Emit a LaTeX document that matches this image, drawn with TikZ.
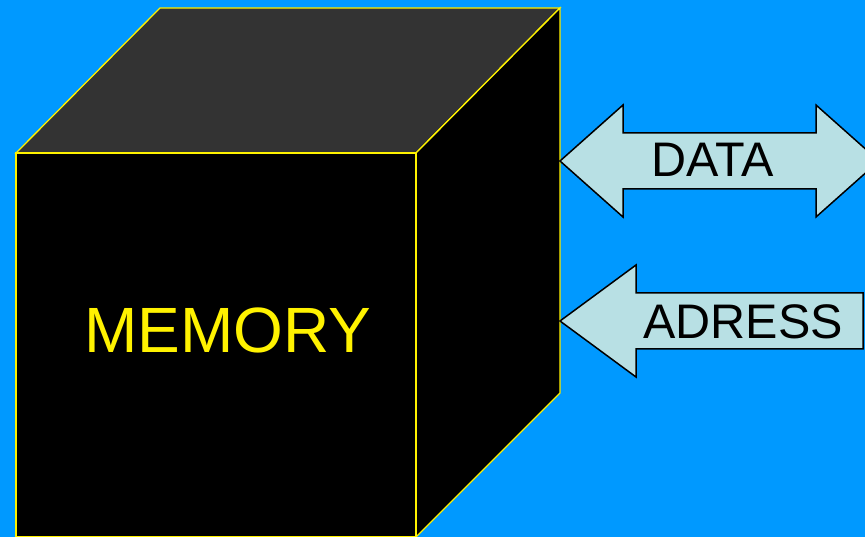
\documentclass[tikz,border=0pt]{standalone}
\usepackage{fontspec}
\setmainfont{Liberation Sans}
\definecolor{bgblue}{RGB}{0,153,255}
\definecolor{topgray}{RGB}{51,51,51}
\definecolor{buscyan}{RGB}{184,224,228}
\tikzset{
  edge/.style={draw=yellow, line width=1.3pt, line join=miter},
  busarrow/.style={fill=buscyan, draw=black, line width=1.5pt, line join=miter},
  buslabel/.style={font=\fontsize{48.5}{48.5}\selectfont, text=black, inner sep=0pt}
}
\begin{document}
\begin{tikzpicture}[x=1pt,y=-1pt]
  \useasboundingbox (0,0) rectangle (865,537);
  \clip (0,0) rectangle (865,537);
  \fill[bgblue] (0,0) rectangle (865,537);
  % cube
  \draw[edge, fill=topgray] (16,153) -- (160,8) -- (560,8) -- (416,153) -- cycle;
  \draw[edge, fill=black] (416,153) -- (560,8) -- (560,393) -- (416,537) -- cycle;
  \draw[edge, fill=black] (16,153) rectangle (416,537);
  \node[text=yellow, font=\fontsize{64}{64}\selectfont, inner sep=0pt] (memory) at (228,330) {MEMORY};
  % buses
  \draw[busarrow] (560,161) -- (623,105) -- (623,133) -- (816,133) -- (816,105) -- (879,161)
    -- (816,217) -- (816,189) -- (623,189) -- (623,217) -- cycle;
  \node[buslabel] (data) at (713,160) {DATA};
  \draw[busarrow] (560,321) -- (636,265) -- (636,293) -- (863,293) -- (863,349) -- (636,349)
    -- (636,377) -- cycle;
  \node[buslabel] (adress) at (743,322) {ADRESS};
\end{tikzpicture}
\end{document}
